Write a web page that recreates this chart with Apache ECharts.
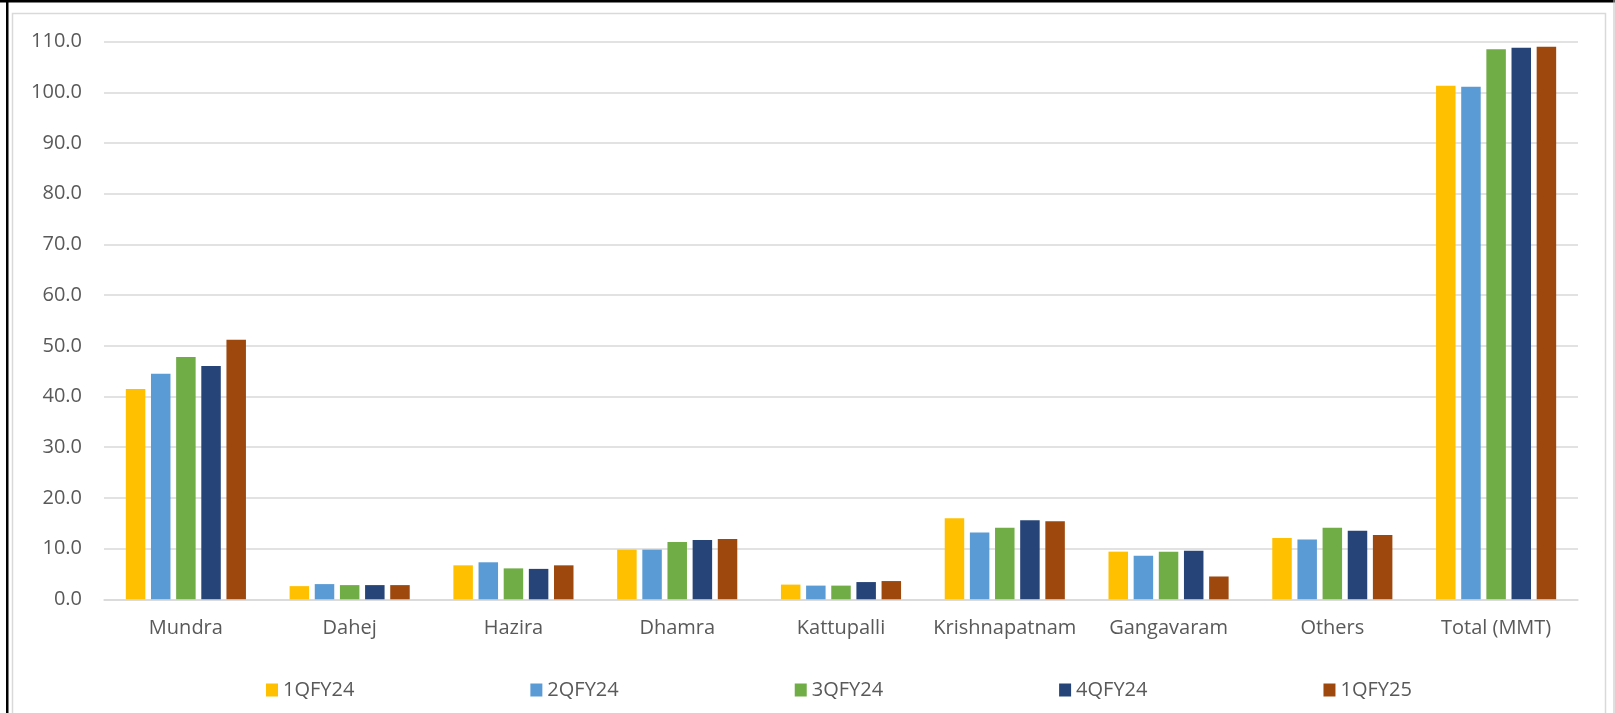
<!DOCTYPE html>
<html>
<head>
<meta charset="utf-8">
<title>Port volumes</title>
<script src="https://cdn.jsdelivr.net/npm/echarts@6/dist/echarts.min.js"></script>
<style>
    html, body { margin: 0; padding: 0; background: #fff; }
    #chart { width: 1615px; height: 713px; }
</style>
</head>
<body>
<div id="chart"></div>
<script>
    // 数据
    var ports = ['Mundra', 'Dahej', 'Hazira', 'Dhamra', 'Kattupalli', 'Krishnapatnam', 'Gangavaram', 'Others', 'Total (MMT)'];
    var quarters = ['1QFY24', '2QFY24', '3QFY24', '4QFY24', '1QFY25'];
    var q1fy24 = [41.5, 2.6, 6.7, 9.8, 2.9, 16.0, 9.4, 12.1, 101.3];
    var q2fy24 = [44.5, 3.0, 7.3, 9.8, 2.7, 13.2, 8.6, 11.8, 101.1];
    var q3fy24 = [47.8, 2.8, 6.1, 11.3, 2.7, 14.1, 9.4, 14.1, 108.5];
    var q4fy24 = [46.0, 2.8, 6.0, 11.7, 3.4, 15.6, 9.6, 13.5, 108.8];
    var q1fy25 = [51.2, 2.8, 6.7, 11.9, 3.6, 15.4, 4.5, 12.7, 109.0];
    var colors = ['#FFC000', '#5B9BD5', '#70AD47', '#264478', '#9E480E'];

    var chart = echarts.init(document.getElementById('chart'));
    var font = '"Open Sans", "Noto Sans", sans-serif';
    var values = [q1fy24, q2fy24, q3fy24, q4fy24, q1fy25];

    var series = quarters.map(function (name, i) {
        return {
            name: name,
            type: 'bar',
            data: values[i],
            barWidth: 19.5,
            barGap: '29%',
            itemStyle: { color: colors[i] }
        };
    });

    var option = {
        animation: false,
        color: colors,
        graphic: [
            // 外框
            { type: 'rect', shape: { x: 12.5, y: 13.5, width: 1593, height: 720 },
              style: { fill: 'none', stroke: '#d9d9d9', lineWidth: 1.5 }, silent: true },
            { type: 'rect', shape: { x: 0, y: 0, width: 1615, height: 2.5 }, style: { fill: '#000' }, silent: true },
            { type: 'rect', shape: { x: 6, y: 0, width: 2.5, height: 713 }, style: { fill: '#000' }, silent: true },
            { type: 'rect', shape: { x: 1613.5, y: 0, width: 1, height: 713 }, style: { fill: '#bfbfbf' }, silent: true }
        ],
        grid: { left: 104, right: 37, top: 41.7, bottom: 113.7 },
        legend: {
            data: quarters,
            left: 261,
            top: 675,
            itemWidth: 12,
            itemHeight: 13,
            itemGap: 176,
            icon: 'rect',
            textStyle: { fontFamily: font, fontSize: 20, color: '#595959' }
        },
        xAxis: {
            type: 'category',
            data: ports,
            axisLine: { lineStyle: { color: '#d9d9d9', width: 1.5 } },
            axisTick: { show: false },
            axisLabel: { interval: 0, margin: 19, fontFamily: font, fontSize: 20, color: '#595959' }
        },
        yAxis: {
            type: 'value',
            min: 0,
            max: 110,
            interval: 10,
            axisLine: { show: false },
            axisTick: { show: false },
            splitLine: { lineStyle: { color: '#d9d9d9', width: 1.5 } },
            axisLabel: {
                margin: 22,
                fontFamily: font,
                fontSize: 20,
                color: '#595959',
                formatter: function (v) { return v.toFixed(1); }
            }
        },
        series: series
    };
    chart.setOption(option);
</script>
</body>
</html>
